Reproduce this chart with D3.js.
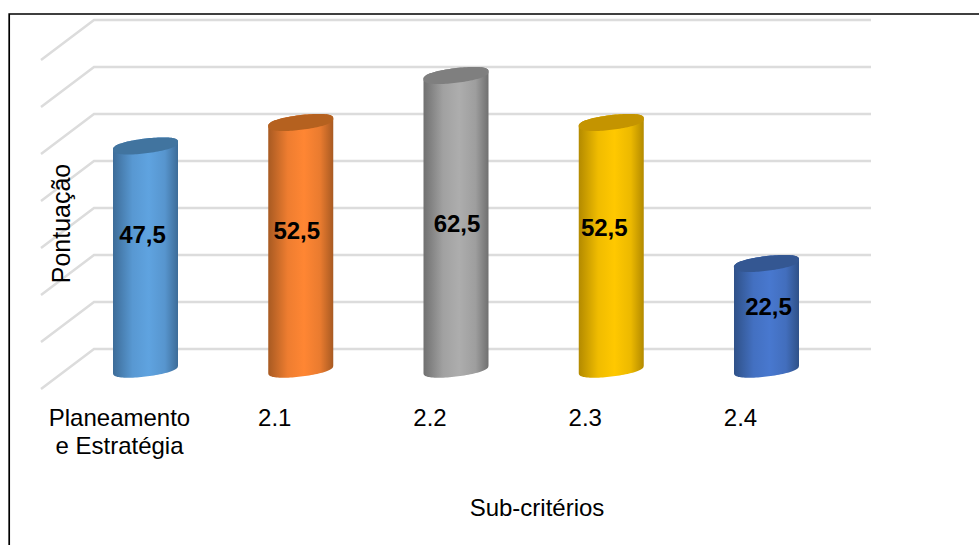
<!DOCTYPE html>
<html>
<head>
<meta charset="utf-8">
<script src="https://cdnjs.cloudflare.com/ajax/libs/d3/7.8.5/d3.min.js"></script>
<style>
  html, body { margin: 0; padding: 0; background: #fff; }
  svg { display: block; }
  text { font-family: "Liberation Sans", Arial, sans-serif; fill: #000; }
</style>
</head>
<body>
<svg id="chart" width="979" height="545"></svg>
<script>
// Scores per sub-criterion
const categories = ["Planeamento e Estratégia", "2.1", "2.2", "2.3", "2.4"];
const scores = [47.5, 52.5, 62.5, 52.5, 22.5];
const scoreLabels = ["47,5", "52,5", "62,5", "52,5", "22,5"];
const gridTicks = [0, 10, 20, 30, 40, 50, 60, 70];

// Cylinder colours: body centre, body edge, top cap
const bodyColors = ["#5fa3e0", "#ff8633", "#adadad", "#ffc800", "#4878cf"];
const edgeColors = ["#3d6c98", "#a85a22", "#707070", "#b38a00", "#2f5188"];
const capColors = ["#41749f", "#b5611f", "#7f7f7f", "#c49400", "#345792"];

// Hand-placed data label heights and per-label x shift, in px
const labelY = [235, 231, 224, 228, 307];
const labelShiftX = [-3, -4, 1, -7, 2];

const svg = d3.select("#chart");
const width = 979, height = 545;

const wallLeft = 94, wallRight = 871;
const depthX = -53, depthY = 40;   // floor/wall receding direction
const frontY = 24;                 // bar base sits this far in front of the wall

const x = d3.scalePoint().domain(categories).range([145.5, 766.5]);
const y = d3.scaleLinear().domain([0, 70]).range([349, 20]);

const barW = 65;
const tilt = 3.8;    // vertical offset of the cap's left/right extremes
const capB = 7.4;    // semi-minor axis of the cap ellipse

// Outer frame
svg.append("path")
  .attr("d", `M9.2,${height}V14H${width}`)
  .attr("fill", "none")
  .attr("stroke", "#000")
  .attr("stroke-width", 1.7);

// Gradients for the cylinder bodies
const defs = svg.append("defs");
categories.forEach((c, i) => {
  const g = defs.append("linearGradient")
    .attr("id", "body" + i)
    .attr("x1", 0).attr("x2", 1).attr("y1", 0).attr("y2", 0);
  [[0, edgeColors[i]], [0.3, d3.interpolateRgb(edgeColors[i], bodyColors[i])(0.8)],
   [0.55, bodyColors[i]], [0.8, d3.interpolateRgb(edgeColors[i], bodyColors[i])(0.75)],
   [1, edgeColors[i]]].forEach(([o, col]) => {
    g.append("stop").attr("offset", o).attr("stop-color", col);
  });
});

// Horizontal gridlines on the back wall with their receding side-wall strokes
const grid = svg.append("g")
  .attr("fill", "none")
  .attr("stroke", "#dcdcdc")
  .attr("stroke-width", 2.5);
grid.selectAll("path")
  .data(gridTicks)
  .join("path")
  .attr("d", t => `M${wallLeft + depthX},${y(t) + depthY}L${wallLeft},${y(t)}H${wallRight}`);

// Cap outline: a sheared, slightly squared ellipse whose right side rises
function capPoints(cx, cy, from, to, n) {
  return d3.range(n + 1).map(k => {
    const t = from + (to - from) * k / n;
    const s = Math.sin(t);
    const full = Math.sign(s) * Math.pow(Math.abs(s), 0.75);
    return [cx + barW / 2 * Math.cos(t),
            cy + capB * full - tilt * Math.cos(t)];
  });
}
const line = d3.line();

// Cylinders
const bars = svg.append("g").selectAll("g")
  .data(categories)
  .join("g");

bars.append("path")
  .attr("fill", (d, i) => `url(#body${i})`)
  .attr("d", (d, i) => {
    const cx = x(d);
    const topCy = y(scores[i]) + frontY - tilt;
    const baseCy = y(0) + frontY - tilt;
    const bottom = capPoints(cx, baseCy, 0, Math.PI, 48);
    const top = capPoints(cx, topCy, Math.PI, 2 * Math.PI, 48);
    return line(bottom.concat(top)) + "Z";
  });

bars.append("path")
  .attr("fill", (d, i) => capColors[i])
  .attr("d", (d, i) => {
    const topCy = y(scores[i]) + frontY - tilt;
    return line(capPoints(x(d), topCy, 0, 2 * Math.PI, 96)) + "Z";
  });

// Value labels on the cylinders
svg.append("g").selectAll("text")
  .data(scoreLabels)
  .join("text")
  .attr("x", (d, i) => x(categories[i]) + labelShiftX[i])
  .attr("y", (d, i) => labelY[i] + 8)
  .attr("text-anchor", "middle")
  .attr("font-size", 24)
  .attr("font-weight", "bold")
  .text(d => d);

// Category labels, the long one wrapped on two lines
const catLabels = svg.append("g").selectAll("text")
  .data(categories)
  .join("text")
  .attr("text-anchor", "middle")
  .attr("font-size", 24)
  .attr("y", 426);
catLabels.each(function (d) {
  const sel = d3.select(this);
  const cx = x(d) - 26;
  if (d.length > 10) {
    sel.append("tspan").attr("x", cx).text("Planeamento");
    sel.append("tspan").attr("x", cx).attr("dy", 28).text("e Estratégia");
  } else {
    sel.attr("x", cx).text(d);
  }
});

// Axis titles
svg.append("text")
  .attr("x", 537).attr("y", 516)
  .attr("text-anchor", "middle")
  .attr("font-size", 24)
  .text("Sub-critérios");

svg.append("text")
  .attr("transform", "translate(69.5,223.5) rotate(-90)")
  .attr("text-anchor", "middle")
  .attr("font-size", 25)
  .text("Pontuação");
</script>
</body>
</html>
